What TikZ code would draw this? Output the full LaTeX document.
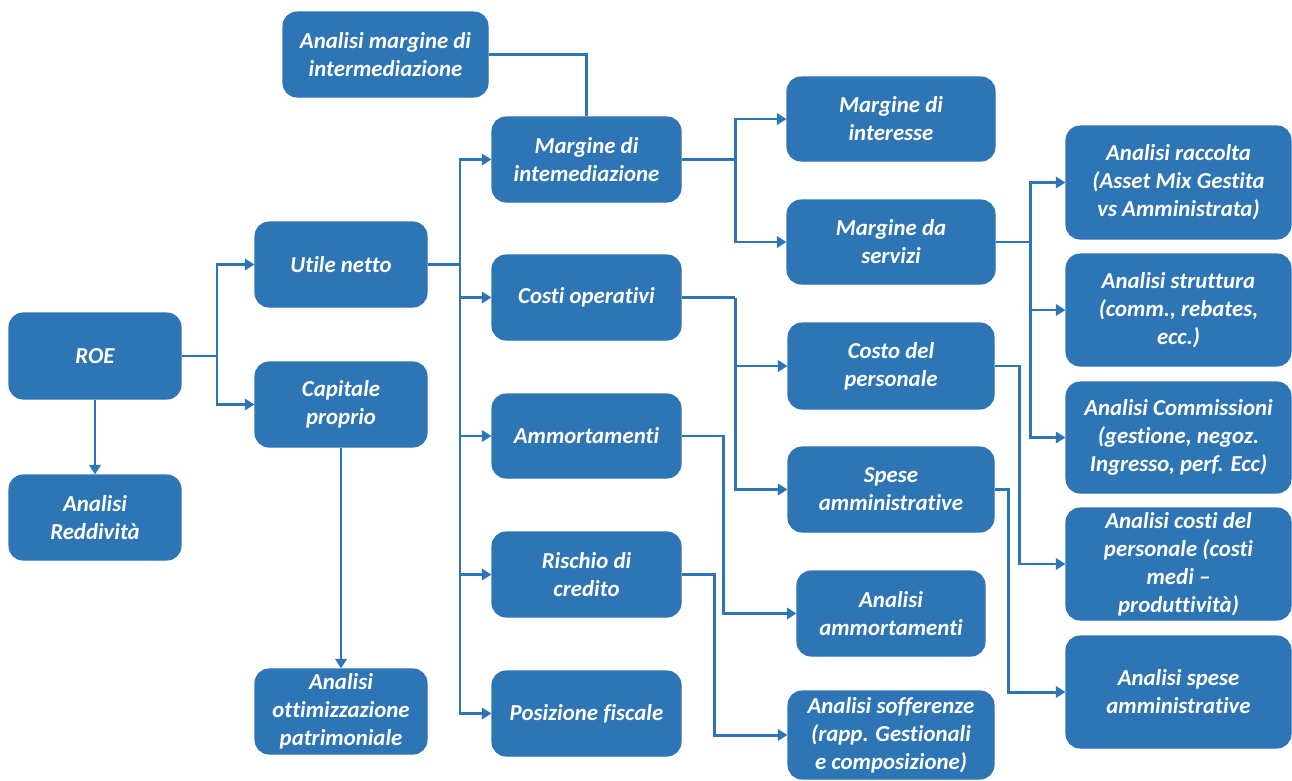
\documentclass[tikz,border=0pt]{standalone}
\usepackage{fontspec}
\setmainfont{Carlito}[Ligatures={NoCommon,NoContextual,NoRare},RawFeature={-liga;-clig;-dlig}]
\usetikzlibrary{arrows.meta}
\definecolor{boxblue}{HTML}{2E75B6}
\tikzset{
  blk/.style={draw=boxblue, fill=boxblue, rounded corners=8pt, inner sep=0pt,
    align=center, text=white, line width=0.6pt,
    font=\fontsize{13}{15.9}\selectfont\bfseries\itshape},
  ln/.style={draw=boxblue, line width=1.7pt},
  arr/.style={ln, -{Triangle[length=5.5pt,width=6.5pt]}}
}
% box given by its corners (x1,y1)-(x2,y2)
\newcommand\blk[6]{%
  \node[blk, minimum width={(#4-#2)*0.02cm}, minimum height={(#5-#3)*0.02cm}]
    (#1) at ({(#2+#4)/2},{(#3+#5)/2}) {#6};}
\begin{document}
\begin{tikzpicture}[x=0.02cm,y=-0.02cm]
\useasboundingbox (0,0) rectangle (1292,781);

% boxes
\blk{roe}{9}{313}{181}{399}{ROE}
\blk{ared}{9}{475}{181}{560}{Analisi\\Reddività}
\blk{utile}{255}{222}{427}{307}{Utile netto}
\blk{cap}{255}{362}{427}{447}{Capitale\\proprio}
\blk{aop}{255}{669}{427}{754}{Analisi\\ottimizzazione\\patrimoniale}
\blk{ami}{283}{12}{488}{97}{Analisi margine di\\intermediazione}
\blk{mi}{492}{117}{681}{202}{Margine di\\intemediazione}
\blk{co}{492}{255}{681}{340}{Costi operativi}
\blk{amm}{492}{394}{681}{478}{Ammortamenti}
\blk{ric}{492}{532}{681}{617}{Rischio di\\credito}
\blk{pf}{492}{671}{681}{756}{Posizione fiscale}
\blk{mint}{787}{77}{995}{161}{Margine di\\interesse}
\blk{mser}{787}{200}{995}{284}{Margine da\\servizi}
\blk{cdp}{788}{323}{994}{409}{Costo del\\personale}
\blk{spa}{788}{447}{994}{532}{Spese\\amministrative}
\blk{aamm}{797}{571}{985}{656}{Analisi\\ammortamenti}
\blk{asof}{788}{691}{994}{779}{Analisi sofferenze\\(rapp. Gestionali\\e composizione)}
\blk{arac}{1066}{126}{1291}{239}{Analisi raccolta\\(Asset Mix Gestita\\vs Amministrata)}
\blk{astr}{1066}{254}{1291}{366}{Analisi struttura\\(comm., rebates,\\ecc.)}
\blk{acom}{1066}{382}{1291}{493}{Analisi Commissioni\\(gestione, negoz.\\Ingresso, perf. Ecc)}
\blk{acp}{1066}{508}{1291}{620}{Analisi costi del\\personale (costi\\medi –\\produttività)}
\blk{asp}{1066}{636}{1291}{748}{Analisi spese\\amministrative}

% x positions of the vertical busses
\coordinate (busA) at (217,0);
\coordinate (busB) at (460,0);
\coordinate (busC) at (735,0);
\coordinate (busD) at (1030,0);
\coordinate (busE) at (735,0);
\coordinate (busF) at (1019,0);
\coordinate (busG) at (1008,0);
\coordinate (busH) at (723,0);
\coordinate (busI) at (714,0);

% ROE
\draw[ln] (roe.east) -- (roe.east -| busA);
\draw[arr] (roe.east -| busA) |- (utile);
\draw[arr] (roe.east -| busA) |- (cap);
\draw[arr] (roe.south) -- (ared.north);

% Capitale proprio
\draw[arr] (cap.south) -- (aop.north);

% Utile netto
\draw[ln] (utile.east) -- (utile.east -| busB);
\draw[arr] (utile.east -| busB) |- (mi);
\draw[arr] (utile.east -| busB) |- (co);
\draw[arr] (utile.east -| busB) |- (amm);
\draw[arr] (utile.east -| busB) |- (ric);
\draw[arr] (utile.east -| busB) |- (pf);

% Analisi margine di intermediazione
\draw[ln] (ami.east) -| (mi.north);

% Margine di intermediazione
\draw[ln] (mi.east) -- (mi.east -| busC);
\draw[arr] (mi.east -| busC) |- (mint);
\draw[arr] (mi.east -| busC) |- (mser);

% Margine da servizi
\draw[ln] (mser.east) -- (mser.east -| busD);
\draw[arr] (mser.east -| busD) |- (arac);
\draw[arr] (mser.east -| busD) |- (astr);
\draw[arr] (mser.east -| busD) |- (acom);

% Costi operativi
\draw[ln] (co.east) -- (co.east -| busE);
\draw[arr] (co.east -| busE) |- (cdp);
\draw[arr] (co.east -| busE) |- (spa);

% second level analyses
\draw[arr] (cdp.east) -- (cdp.east -| busF) |- (acp);
\draw[arr] (spa.east) -- (spa.east -| busG) |- (asp);
\draw[arr] (amm.east) -- (amm.east -| busH) |- (aamm);
\draw[arr] (ric.east) -- (ric.east -| busI) |- (asof);
\end{tikzpicture}
\end{document}
